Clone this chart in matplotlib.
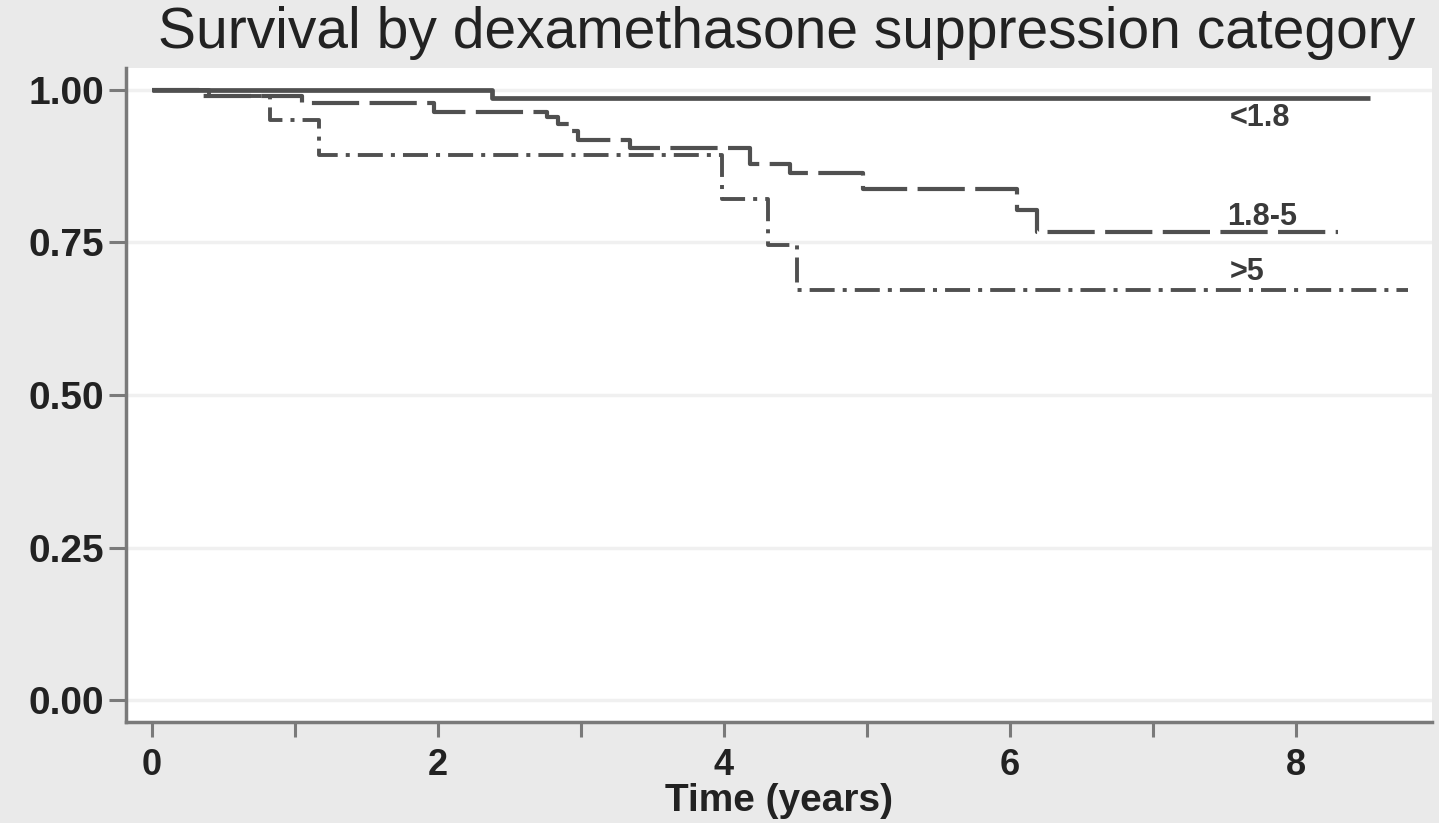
import matplotlib
matplotlib.use("Agg")
import matplotlib.pyplot as plt

plt.rcParams['font.family'] = ['Liberation Sans', 'DejaVu Sans']
plt.rcParams['lines.scale_dashes'] = False

# ---- data ----
title = "Survival by dexamethasone suppression category"
xlabel = "Time (years)"

t_low = [0.0, 2.38, 8.52]
s_low = [1.000, 0.987, 0.987]

t_mid = [0.0, 0.35, 1.05, 1.97, 2.76, 2.84, 2.92, 2.98, 3.34, 4.18, 4.46, 4.97, 6.05, 6.19, 8.29]
s_mid = [1.000, 0.990, 0.979, 0.964, 0.955, 0.945, 0.932, 0.918, 0.905, 0.879, 0.864, 0.838, 0.803, 0.767, 0.767]

t_high = [0.0, 0.40, 0.83, 1.17, 3.99, 4.31, 4.51, 8.78]
s_high = [1.000, 0.990, 0.950, 0.893, 0.821, 0.746, 0.672, 0.672]

group_labels = ["<1.8", "1.8-5", ">5"]
label_x = [7.75, 7.76, 7.66]
label_y = [0.954, 0.792, 0.702]

yticks = [0.0, 0.25, 0.5, 0.75, 1.0]
ytick_labels = ["0.00", "0.25", "0.50", "0.75", "1.00"]
xticks_major = [0, 2, 4, 6, 8]
xticks_minor = [1, 3, 5, 7]

# ---- figure ----
fig = plt.figure(figsize=(14.39, 8.23), dpi=100, facecolor='#eaeaea')
ax = fig.add_axes([126/1439, 1-722/823, (1432-126)/1439, (722-68)/823])
ax.set_facecolor('white')

line_col = '#505050'
ax.step(t_low, s_low, where='post', color=line_col, lw=3.4, solid_capstyle='butt')
ax.step(t_mid, s_mid, where='post', color=line_col, lw=3.0,
        linestyle=(0, (34, 7.5)))
ax.step(t_high, s_high, where='post', color=line_col, lw=2.8,
        linestyle=(0, (18, 5.8, 2.9, 5.8)))

for lab, x, y in zip(group_labels, label_x, label_y):
    ax.text(x, y, lab, ha='center', va='center', fontsize=22,
            fontweight='bold', color='#3a3a3a')

ax.set_xlim(-0.18, 8.95)
ax.set_ylim(-0.036, 1.036)

ax.set_yticks(yticks)
ax.set_yticklabels(ytick_labels)
ax.set_xticks(xticks_major)
ax.set_xticks(xticks_minor, minor=True)

for y in yticks:
    ax.axhline(y, color='#f0f0f0', lw=2.5, zorder=0)

for s in ['top', 'right']:
    ax.spines[s].set_visible(False)
for s in ['left', 'bottom']:
    ax.spines[s].set_color('#7a7a7a')
    ax.spines[s].set_linewidth(2.5)

ax.tick_params(axis='y', length=12, width=2.2, color='#7a7a7a', pad=4,
               labelsize=28, labelcolor='#222222')
ax.tick_params(axis='x', which='both', length=11, width=2.2, color='#7a7a7a',
               pad=8, labelsize=26, labelcolor='#222222')
for lbl in ax.get_yticklabels() + ax.get_xticklabels():
    lbl.set_fontweight('bold')

ax.set_xlabel(xlabel, fontsize=28, fontweight='bold', color='#222222', labelpad=0)

fig.text(787/1439, 1-48/823, title, ha='center', va='baseline',
         fontsize=41, color='#222222')

fig.savefig('out.png', dpi=100, facecolor=fig.get_facecolor())
